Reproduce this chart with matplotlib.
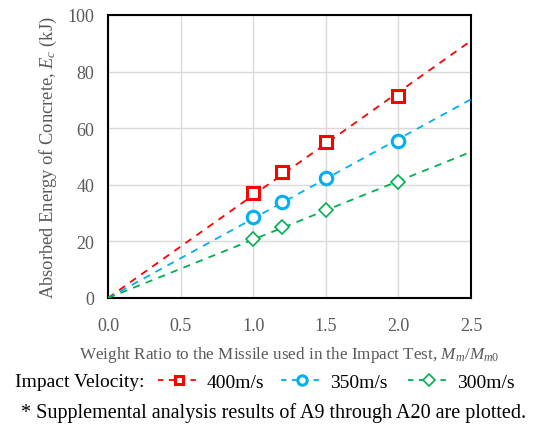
import numpy as np
import matplotlib
matplotlib.use("Agg")
import matplotlib.pyplot as plt
from matplotlib.lines import Line2D

plt.rcParams['font.family'] = ['Liberation Serif', 'DejaVu Serif']
plt.rcParams['mathtext.fontset'] = 'custom'
plt.rcParams['mathtext.rm'] = 'Liberation Serif'
plt.rcParams['mathtext.it'] = 'Liberation Serif:italic'

weight_ratio = [1.0, 1.2, 1.5, 2.0]
e_400 = [37.0, 44.5, 55.0, 71.5]
e_350 = [28.5, 34.0, 42.5, 55.5]
e_300 = [21.0, 25.0, 31.0, 41.0]
labels = ["400m/s", "350m/s", "300m/s"]
xticks = [0.0, 0.5, 1.0, 1.5, 2.0, 2.5]
yticks = [0, 20, 40, 60, 80, 100]

gray = '#595959'
fig = plt.figure(figsize=(5.5, 4.27), dpi=100)
ax = fig.add_axes([108/550, 1-299/427, (471-108)/550, (299-16)/427])

series = [
    (e_400, '#ff0000', 's', 8, 2.2),
    (e_350, '#00b0f0', 'o', 9, 2.2),
    (e_300, '#00b050', 'D', 7.5, 1.2),
]
handles = []
x = np.array(weight_ratio)
xfit = np.array([0.0, 2.5])
for (vals, col, mk, ms, mew), lab in zip(series, labels):
    y = np.array(vals)
    slope = np.sum(x * y) / np.sum(x * x)
    ax.plot(xfit, slope * xfit, color=col, ls=(0, (4, 3.5)), lw=1.3, zorder=3)
    ax.plot(x, y, ls='none', marker=mk, ms=ms, mfc='white', mec=col, mew=mew, zorder=4)
    handles.append(Line2D([], [], color=col, ls=(0, (3, 3)), lw=1.3, marker=mk,
                          ms=ms*0.75, mfc='white', mec=col, mew=mew, label=lab))

ax.set_xlim(0, 2.5)
ax.set_ylim(0, 100)
ax.set_xticks(xticks)
ax.set_xticklabels([f"{v:.1f}" for v in xticks])
ax.set_yticks(yticks)
ax.grid(True, color='#d9d9d9', lw=1.0, zorder=0)
ax.set_axisbelow(True)
for s in ax.spines.values():
    s.set_color('black')
    s.set_linewidth(1.5)
ax.tick_params(axis='both', length=0, labelsize=13, colors=gray)
ax.tick_params(axis='x', pad=14)
ax.tick_params(axis='y', pad=10)
ax.set_xlabel(r"Weight Ratio to the Missile used in the Impact Test, $M_m/M_{m0}$",
              fontsize=12.3, color=gray, labelpad=7)
ax.set_ylabel(r"Absorbed Energy of Concrete, $E_c$ (kJ)", fontsize=13.3, color=gray, labelpad=6)

fig.text(15/550, 1-383/427, "Impact Velocity:", fontsize=14, color='black', va='center', ha='left')
for h, xl in zip(handles, [158, 281, 408]):
    fig.legend(handles=[h], loc='center left', bbox_to_anchor=(xl/550, 1-383/427),
               frameon=False, fontsize=14, handlelength=2.2, handletextpad=0.3,
               borderaxespad=0, borderpad=0)
fig.text(274/550, 1-413/427, "* Supplemental analysis results of A9 through A20 are plotted.",
         fontsize=14.5, color='black', va='center', ha='center')

fig.savefig("out.png", dpi=100)
